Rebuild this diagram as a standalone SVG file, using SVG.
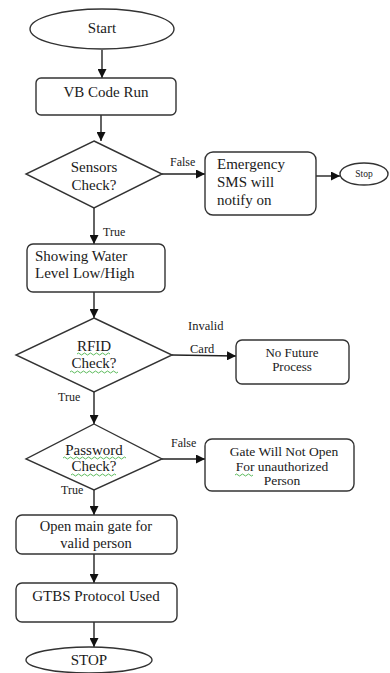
<svg xmlns="http://www.w3.org/2000/svg" width="390" height="673" viewBox="0 0 390 673">
<style>
.sh{fill:#fff;stroke:#333;stroke-width:1.4}
.t{font-family:'Liberation Serif','Times New Roman',serif;fill:#1a1a1a}
.m{text-anchor:middle}
.c{stroke:#222;stroke-width:1.4;fill:none;marker-end:url(#ah)}
.sq{stroke:#3a3;stroke-width:0.8;fill:none}
</style>
<defs>
<marker id="ah" markerUnits="userSpaceOnUse" markerWidth="9" markerHeight="9" viewBox="0 0 10 10" refX="10" refY="5" orient="auto">
<path d="M0,0 L10,5 L0,10 z" fill="#111"/>
</marker>
</defs>
<rect width="390" height="673" fill="#fff"/>
<g id="connectors">
<line class="c" x1="102" y1="50" x2="102" y2="78"/>
<line class="c" x1="101" y1="115" x2="101" y2="141"/>
<line class="c" x1="162" y1="174" x2="205" y2="174"/>
<line class="c" x1="316" y1="176" x2="340" y2="176"/>
<line class="c" x1="94" y1="208" x2="94" y2="244"/>
<line class="c" x1="94" y1="292" x2="94" y2="318"/>
<line class="c" x1="172" y1="355" x2="236" y2="356"/>
<line class="c" x1="94" y1="392" x2="94" y2="424"/>
<line class="c" x1="162" y1="459" x2="205" y2="459"/>
<line class="c" x1="94" y1="490" x2="94" y2="515"/>
<line class="c" x1="94" y1="554" x2="94" y2="583"/>
<line class="c" x1="94" y1="622" x2="94" y2="647"/>
<text class="t" x="170" y="166" font-size="12">False</text>
<text class="t" x="103" y="236" font-size="12">True</text>
<text class="t" x="188" y="330" font-size="12.5">Invalid</text>
<text class="t" x="190" y="353" font-size="12.5">Card</text>
<text class="t" x="58" y="401" font-size="12">True</text>
<text class="t" x="171" y="447" font-size="12">False</text>
<text class="t" x="61" y="494" font-size="12">True</text>
</g>
<g id="start">
<ellipse class="sh" cx="102" cy="29" rx="72" ry="20"/>
<text class="t m" x="102" y="33" font-size="15">Start</text>
</g>
<g id="vb">
<rect class="sh" x="36" y="78" width="140" height="37" rx="5"/>
<text class="t m" x="106" y="97" font-size="15">VB Code Run</text>
</g>
<g id="sensors">
<polygon class="sh" points="94,141 162,174 94,208 26,174"/>
<text class="t m" x="94" y="172" font-size="15">Sensors</text>
<text class="t m" x="94" y="190" font-size="15">Check?</text>
</g>
<g id="emergency">
<rect class="sh" x="205" y="152" width="111" height="63" rx="8"/>
<text class="t" x="217" y="169" font-size="15">Emergency</text>
<text class="t" x="217" y="187" font-size="15">SMS will</text>
<text class="t" x="217" y="205" font-size="15">notify on</text>
</g>
<g id="stop-small">
<ellipse class="sh" cx="364" cy="174" rx="24" ry="11"/>
<text class="t m" x="364" y="177" font-size="9.5">Stop</text>
</g>
<g id="showing">
<rect class="sh" x="27" y="244" width="138" height="48" rx="6"/>
<text class="t" x="35" y="261" font-size="15">Showing Water</text>
<text class="t" x="35" y="278" font-size="15">Level Low/High</text>
</g>
<g id="rfid">
<polygon class="sh" points="94,318 172,355 94,392 16,355"/>
<text class="t m" x="94" y="351" font-size="15">RFID</text>
<text class="t m" x="94" y="368" font-size="15">Check?</text>
<path class="sq" d="M77,354 q1.5,-2 3,0 t3,0 t3,0 t3,0 t3,0 t3,0 t3,0 t3,0 t3,0 t3,0 t3,0"/>
<path class="sq" d="M70,372 q1.5,-2 3,0 t3,0 t3,0 t3,0 t3,0 t3,0 t3,0 t3,0 t3,0 t3,0 t3,0 t3,0 t3,0 t3,0 t3,0 t3,0"/>
</g>
<g id="nofuture">
<rect class="sh" x="236" y="340" width="113" height="44" rx="6"/>
<text class="t m" x="292" y="357" font-size="13">No Future</text>
<text class="t m" x="292" y="371" font-size="13">Process</text>
</g>
<g id="password">
<polygon class="sh" points="94,424 162,459 94,490 26,459"/>
<text class="t m" x="94" y="455" font-size="15">Password</text>
<text class="t m" x="94" y="471" font-size="15">Check?</text>
<path class="sq" d="M63,458 q1.5,-2 3,0 t3,0 t3,0 t3,0 t3,0 t3,0 t3,0 t3,0 t3,0 t3,0 t3,0 t3,0 t3,0 t3,0 t3,0 t3,0 t3,0 t3,0 t3,0 t3,0 t3,0"/>
<path class="sq" d="M71,475 q1.5,-2 3,0 t3,0 t3,0 t3,0 t3,0 t3,0 t3,0 t3,0 t3,0 t3,0 t3,0 t3,0 t3,0 t3,0 t3,0"/>
</g>
<g id="gate">
<rect class="sh" x="205" y="439" width="149" height="52" rx="7"/>
<text class="t m" x="284" y="456" font-size="13.5">Gate Will Not Open</text>
<text class="t m" x="282" y="471" font-size="13.5">For unauthorized</text>
<text class="t m" x="282" y="485" font-size="13.5">Person</text>
<path class="sq" d="M235,475 q1.5,-2 3,0 t3,0 t3,0 t3,0 t3,0 t3,0"/>
</g>
<g id="openmain">
<rect class="sh" x="16" y="515" width="161" height="39" rx="6"/>
<text class="t m" x="96" y="531" font-size="14.5">Open main gate for</text>
<text class="t m" x="96" y="548" font-size="14.5">valid person</text>
</g>
<g id="gtbs">
<rect class="sh" x="16" y="583" width="161" height="39" rx="6"/>
<text class="t m" x="96" y="601" font-size="15">GTBS Protocol Used</text>
</g>
<g id="stop">
<ellipse class="sh" cx="89" cy="660" rx="63" ry="13"/>
<text class="t m" x="89" y="665" font-size="15">STOP</text>
</g>
</svg>
